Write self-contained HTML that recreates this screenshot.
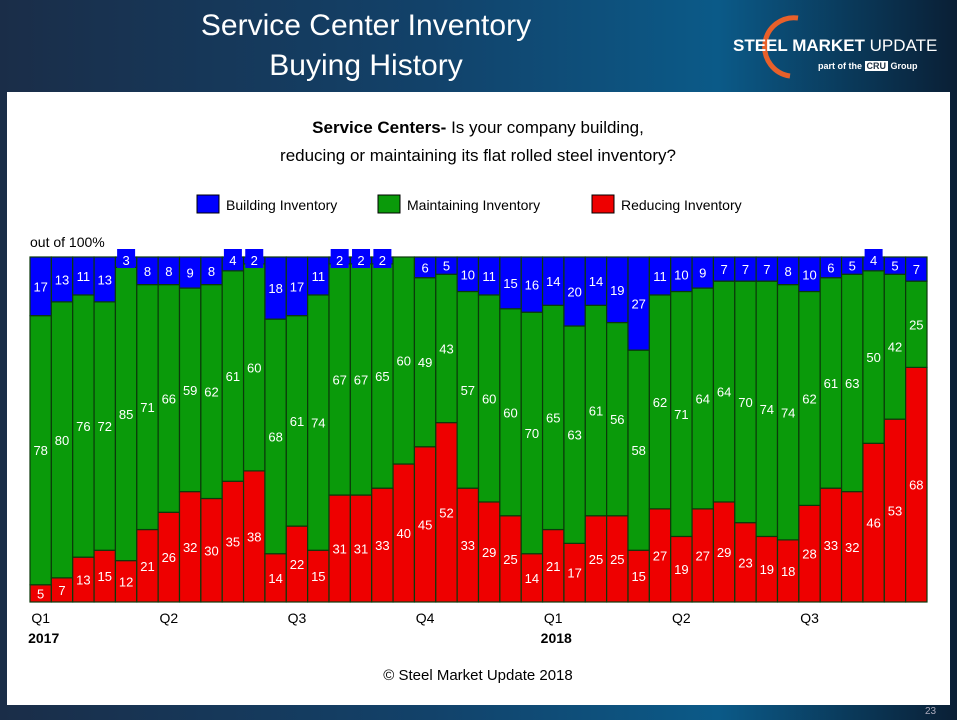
<!DOCTYPE html>
<html><head><meta charset="utf-8"><style>
body{margin:0;width:957px;height:720px;overflow:hidden;font-family:"Liberation Sans",sans-serif;}
#bg{position:absolute;left:0;top:0;width:957px;height:720px;background:linear-gradient(90deg,#1a2d48 0%,#12426a 45%,#0b5a88 75%,#0a1f35 100%);}
#panel{position:absolute;left:7px;top:92px;width:943px;height:613px;background:#fff;}
.t{position:absolute;color:#fff;text-align:center;}
</style></head><body>
<div id="bg"></div>
<div class="t" style="left:116px;top:6px;width:500px;font-size:30px;line-height:40px;">Service Center Inventory<br>Buying History</div>
<div style="position:absolute;left:730px;top:12px;width:220px;height:70px;">
 <svg width="220" height="70" style="position:absolute;left:0;top:0"><path d="M68 6 A28 28 0 1 0 60 64" fill="none" stroke="#e8602a" stroke-width="5"/></svg>
 <div style="position:absolute;left:3px;top:24px;color:#fff;font-size:17px;white-space:nowrap;"><b>STEEL MARKET</b> UPDATE</div>
 <div style="position:absolute;left:88px;top:49px;color:#fff;font-size:9px;font-weight:bold;white-space:nowrap;">part of the <span style="background:#fff;color:#234;padding:0 2px">CRU</span> Group</div>
</div>
<div id="panel"></div>
<div class="t" style="left:925px;top:706px;font-size:10px;color:#aab;">23</div>
<svg id="chart" width="957" height="720" style="position:absolute;left:0;top:0" font-family="Liberation Sans, sans-serif"></svg>
<script>
const blue=[17,13,11,13,3,8,8,9,8,4,2,18,17,11,2,2,2,0,6,5,10,11,15,16,14,20,14,19,27,11,10,9,7,7,7,8,10,6,5,4,5,7];
const green=[78,80,76,72,85,71,66,59,62,61,60,68,61,74,67,67,65,60,49,43,57,60,60,70,65,63,61,56,58,62,71,64,64,70,74,74,62,61,63,50,42,25];
const red=[5,7,13,15,12,21,26,32,30,35,38,14,22,15,31,31,33,40,45,52,33,29,25,14,21,17,25,25,15,27,19,27,29,23,19,18,28,33,32,46,53,68];
const quarterLabels=["Q1","Q2","Q3","Q4","Q1","Q2","Q3"];
const quarterIdx=[0,6,12,18,24,30,36];
const yearLabels=["2017","2018"];
const yearIdx=[0,24];
const svg=document.getElementById('chart');const NS='http://www.w3.org/2000/svg';
const L=30,R=927,T=257,B=602,n=red.length,bw=(R-L)/n;
const x=i=>L+i*bw, y=v=>B-(B-T)*v/100;
function mk(tag,at,txt){const e=document.createElementNS(NS,tag);for(const k in at)e.setAttribute(k,at[k]);if(txt!==undefined)e.textContent=txt;svg.appendChild(e);return e;}
let e;
e=mk('text',{x:478,y:133,'text-anchor':'middle','font-size':17});e.innerHTML='<tspan font-weight="bold">Service Centers-</tspan> Is your company building,';


e=mk('text',{x:478,y:161,'text-anchor':'middle','font-size':17},'reducing or maintaining its flat rolled steel inventory?');


const leg=[["Building Inventory","#0000ff",197],["Maintaining Inventory","#0a9a0a",378],["Reducing Inventory","#ee0000",592]];
leg.forEach(l=>{e=mk('rect',{x:l[2],y:195,width:22,height:18,fill:l[1],stroke:'#000'});


e=mk('text',{x:l[2]+29,y:210,'font-size':14},l[0]);

});
e=mk('text',{x:30,y:247,'font-size':14},'out of 100%');


for(let i=0;i<n;i++){
 const segs=[[0,red[i],'#ee0000'],[red[i],red[i]+green[i],'#0a9a0a'],[red[i]+green[i],red[i]+green[i]+blue[i],'#0000ff']];
 segs.forEach((s,k)=>{if(s[1]-s[0]<=0)return;
  e=mk('rect',{x:x(i),y:y(s[1]),width:bw,height:y(s[0])-y(s[1]),fill:s[2],stroke:'#0b3a0b','stroke-width':1.2});
  
  });
 [[red[i],0],[green[i],red[i]],[blue[i],red[i]+green[i]]].forEach((p,k)=>{if(p[0]<=0)return;
  let cy=(y(p[1])+y(p[1]+p[0]))/2;
  if(k==2&&p[0]<5){cy=T+3;e=mk('rect',{x:x(i)+bw/2-9,y:cy-11,width:18,height:19,fill:'#0000ff'});
   
   }
  e=mk('text',{x:x(i)+bw/2,y:cy+5,'text-anchor':'middle','font-size':13,fill:'#fff'},p[0]);
  
  });
}
quarterLabels.forEach((q,j)=>{e=mk('text',{x:x(quarterIdx[j])+bw/2,y:623,'text-anchor':'middle','font-size':14},q);

});
yearLabels.forEach((q,j)=>{e=mk('text',{x:x(yearIdx[j])+bw/2+3,y:643,'text-anchor':'middle','font-size':14,'font-weight':'bold'},q);

});
e=mk('text',{x:478,y:680,'text-anchor':'middle','font-size':15},'© Steel Market Update 2018');


</script>
</body></html>
